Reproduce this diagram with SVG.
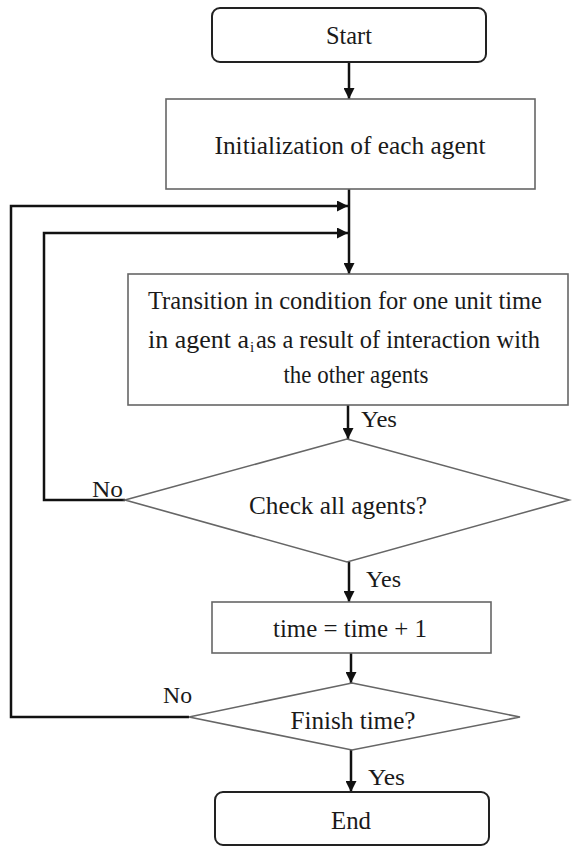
<svg xmlns="http://www.w3.org/2000/svg" width="572" height="847" viewBox="0 0 572 847">
<style>
.term{fill:#fff;stroke:#222;stroke-width:2}
.box{fill:#fff;stroke:#666;stroke-width:1.6}
.t{font-family:"Liberation Serif","Times New Roman",serif;font-size:25px;fill:#1a1a1a;text-anchor:middle}
.ts{font-family:"Liberation Serif","Times New Roman",serif;font-size:25px;fill:#1a1a1a}
.sub{font-family:"Liberation Serif","Times New Roman",serif;font-size:15px;fill:#1a1a1a}
.lbl{font-family:"Liberation Serif","Times New Roman",serif;font-size:24px;fill:#1a1a1a}
.c{fill:none;stroke:#111;stroke-width:2.5}
</style>
<defs>
<marker id="ah" viewBox="0 0 10 10" refX="10" refY="5" markerWidth="11" markerHeight="11" markerUnits="userSpaceOnUse" orient="auto">
<path d="M0,0 L10,5 L0,10 z" fill="#111"/>
</marker>
</defs>
<g id="connectors">
<path class="c" d="M349,62 L349,99" marker-end="url(#ah)"/>
<path class="c" d="M349,189 L349,274" marker-end="url(#ah)"/>
<path class="c" d="M189,717 L11,717 L11,206 L348,206" marker-end="url(#ah)"/>
<path class="c" d="M125,500 L44,500 L44,233 L348,233" marker-end="url(#ah)"/>
<path class="c" d="M348,405 L348,439" marker-end="url(#ah)"/>
<path class="c" d="M349,562 L349,602" marker-end="url(#ah)"/>
<path class="c" d="M351,653 L351,683" marker-end="url(#ah)"/>
<path class="c" d="M351,750 L351,792" marker-end="url(#ah)"/>
<text class="lbl" x="361" y="427" textLength="36" lengthAdjust="spacingAndGlyphs">Yes</text>
<text class="lbl" x="92" y="497" textLength="31" lengthAdjust="spacingAndGlyphs">No</text>
<text class="lbl" x="366" y="587" textLength="35" lengthAdjust="spacingAndGlyphs">Yes</text>
<text class="lbl" x="163" y="703" textLength="29" lengthAdjust="spacingAndGlyphs">No</text>
<text class="lbl" x="368" y="785" textLength="37" lengthAdjust="spacingAndGlyphs">Yes</text>
</g>
<g id="start">
<rect class="term" x="212" y="8" width="274" height="54" rx="8"/>
<text class="t" x="349" y="44" textLength="46" lengthAdjust="spacingAndGlyphs">Start</text>
</g>
<g id="init">
<rect class="box" x="166" y="99" width="369" height="90"/>
<text class="t" x="350" y="154" textLength="271" lengthAdjust="spacingAndGlyphs">Initialization  of each agent</text>
</g>
<g id="transition">
<rect class="box" x="128" y="274" width="440" height="131"/>
<text class="t" x="345" y="309" textLength="394" lengthAdjust="spacingAndGlyphs">Transition in condition for one unit time</text>
<text class="ts" x="148" y="348" textLength="101" lengthAdjust="spacingAndGlyphs">in agent a</text>
<text class="sub" x="250" y="352">i</text>
<text class="ts" x="256" y="348" textLength="284" lengthAdjust="spacingAndGlyphs">as a result of interaction with</text>
<text class="t" x="356" y="383" textLength="145" lengthAdjust="spacingAndGlyphs">the other agents</text>
</g>
<g id="check">
<polygon class="box" points="347,439 569,500 347,562 125,500"/>
<text class="t" x="338" y="514" textLength="178" lengthAdjust="spacingAndGlyphs">Check all agents?</text>
</g>
<g id="time">
<rect class="box" x="212" y="602" width="279" height="51"/>
<text class="t" x="350" y="637" textLength="154" lengthAdjust="spacingAndGlyphs">time = time + 1</text>
</g>
<g id="finish">
<polygon class="box" points="352,683 520,717 352,750 189,717"/>
<text class="t" x="353" y="729" textLength="125" lengthAdjust="spacingAndGlyphs">Finish time?</text>
</g>
<g id="end">
<rect class="term" x="215" y="792" width="274" height="53" rx="8"/>
<text class="t" x="351" y="829" textLength="40" lengthAdjust="spacingAndGlyphs">End</text>
</g>
</svg>
